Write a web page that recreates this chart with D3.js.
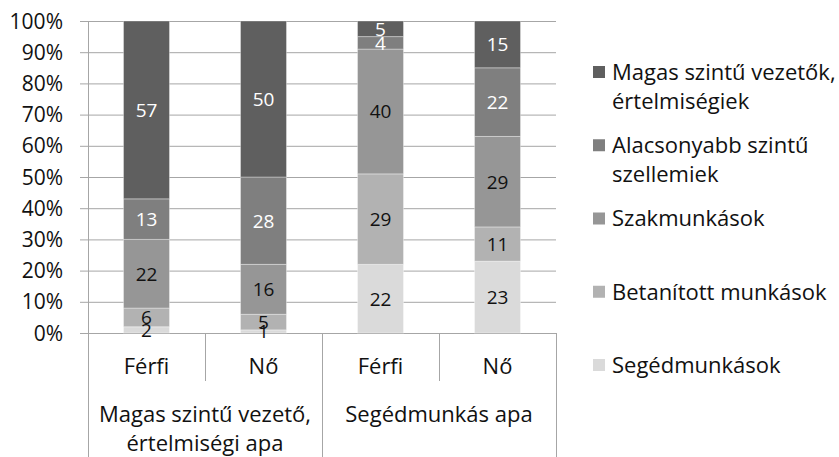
<!DOCTYPE html>
<html>
<head>
<meta charset="utf-8">
<script src="https://cdn.jsdelivr.net/npm/d3@7"></script>
<style>
  body { margin: 0; background: #fff; }
  svg text { font-family: "Open Sans", "Noto Sans", sans-serif; }
</style>
</head>
<body>
<div id="chart"></div>
<script>
// categories (inner level = gender, outer level = father's job)
var genders = ["Férfi", "Nő", "Férfi", "Nő"];
var groups = [
  ["Magas szintű vezető,", "értelmiségi apa"],
  ["Segédmunkás apa"]
];
var groupOf = [0, 0, 1, 1];

// series, bottom to top
var seriesNames = [
  "Segédmunkások",
  "Betanított munkások",
  "Szakmunkások",
  ["Alacsonyabb szintű", "szellemiek"],
  ["Magas szintű vezetők,", "értelmiségiek"]
];
var segedmunkasok = [2, 1, 22, 23];
var betanitott = [6, 5, 29, 11];
var szakmunkasok = [22, 16, 40, 29];
var alacsonyabb = [13, 28, 4, 22];
var magas = [57, 50, 5, 15];

var yTicks = [0, 10, 20, 30, 40, 50, 60, 70, 80, 90, 100];

var colors = ["#dadada", "#b2b2b2", "#969696", "#7f7f7f", "#5f5f5f"];
var labelColors = ["#111", "#111", "#111", "#fff", "#fff"];

var W = 839, H = 457;
var margin = { top: 21, right: 283, bottom: 124, left: 88 };
var width = W - margin.left - margin.right;
var height = H - margin.top - margin.bottom;

var svg = d3.select("#chart").append("svg")
  .attr("width", W)
  .attr("height", H);

var g = svg.append("g")
  .attr("transform", "translate(" + margin.left + "," + margin.top + ")");

var x = d3.scaleBand()
  .domain(d3.range(genders.length))
  .range([0, width])
  .paddingInner(0.607)
  .paddingOuter(0.3035);

var y = d3.scaleLinear()
  .domain([0, 100])
  .range([height, 0]);

var gridColor = "#a6a6a6";

// horizontal gridlines + tick marks
g.selectAll(".grid")
  .data(yTicks)
  .enter().append("line")
  .attr("x1", -8)
  .attr("x2", width)
  .attr("y1", function (d) { return y(d) + 0.5; })
  .attr("y2", function (d) { return y(d) + 0.5; })
  .attr("stroke", gridColor)
  .attr("stroke-width", 1);

g.selectAll(".ylab")
  .data(yTicks)
  .enter().append("text")
  .attr("x", -25)
  .attr("y", function (d) { return y(d); })
  .attr("dy", "0.36em")
  .attr("text-anchor", "end")
  .style("font-size", "21px")
  .attr("fill", "#111")
  .text(function (d) { return d + "%"; });

// stacked data
var table = genders.map(function (c, i) {
  return { i: i, s0: segedmunkasok[i], s1: betanitott[i], s2: szakmunkasok[i], s3: alacsonyabb[i], s4: magas[i] };
});
var stack = d3.stack().keys(["s0", "s1", "s2", "s3", "s4"]);
var layers = stack(table);

var layer = g.selectAll(".layer")
  .data(layers)
  .enter().append("g")
  .attr("fill", function (d, k) { return colors[k]; });

layer.selectAll("rect")
  .data(function (d) { return d; })
  .enter().append("rect")
  .attr("x", function (d) { return x(d.data.i); })
  .attr("width", x.bandwidth())
  .attr("y", function (d) { return y(d[1]); })
  .attr("height", function (d) { return y(d[0]) - y(d[1]); })
  .attr("stroke", "rgba(255,255,255,0.35)")
  .attr("stroke-width", 1);

layers.forEach(function (L, k) {
  g.selectAll(".lab" + k)
    .data(L)
    .enter().append("text")
    .attr("x", function (d) { return x(d.data.i) + x.bandwidth() / 2; })
    .attr("y", function (d) { return (y(d[0]) + y(d[1])) / 2; })
    .attr("dy", "0.36em")
    .attr("text-anchor", "middle")
    .style("font-size", "19px")
    .attr("fill", labelColors[k])
    .text(function (d) { return d[1] - d[0]; });
});

// axes lines
g.append("line")
  .attr("x1", 0.5).attr("x2", 0.5)
  .attr("y1", 0).attr("y2", H - margin.top)
  .attr("stroke", gridColor);
g.append("line")
  .attr("x1", width + 0.5).attr("x2", width + 0.5)
  .attr("y1", height).attr("y2", H - margin.top)
  .attr("stroke", gridColor);

var step = x.step();
// inner tick separators
[1, 3].forEach(function (k) {
  g.append("line")
    .attr("x1", k * step + 0.5).attr("x2", k * step + 0.5)
    .attr("y1", height).attr("y2", height + 48)
    .attr("stroke", gridColor);
});
// group separator
g.append("line")
  .attr("x1", 2 * step + 0.5).attr("x2", 2 * step + 0.5)
  .attr("y1", height).attr("y2", H - margin.top)
  .attr("stroke", gridColor);

// gender labels
g.selectAll(".cat")
  .data(genders)
  .enter().append("text")
  .attr("x", function (d, i) { return x(i) + x.bandwidth() / 2; })
  .attr("y", height + 33)
  .attr("dy", "0.36em")
  .attr("text-anchor", "middle")
  .style("font-size", "22px")
  .attr("fill", "#111")
  .text(function (d) { return d; });

// group labels
groups.forEach(function (lines, gi) {
  var idx = groupOf.map(function (v, i) { return v === gi ? i : -1; }).filter(function (v) { return v >= 0; });
  var cx = (d3.min(idx) * step + (d3.max(idx) + 1) * step) / 2;
  lines.forEach(function (t, li) {
    g.append("text")
      .attr("x", cx)
      .attr("y", height + 81 + li * 29)
      .attr("dy", "0.36em")
      .attr("text-anchor", "middle")
      .style("font-size", "22px")
      .attr("fill", "#111")
      .text(t);
  });
});

// legend, top item first
var legendY = d3.scalePoint()
  .domain(d3.range(seriesNames.length))
  .range([72, 365]);

var legend = svg.append("g");
seriesNames.forEach(function (name, k) {
  var pos = seriesNames.length - 1 - k;
  var cy = legendY(pos);
  legend.append("rect")
    .attr("x", 593)
    .attr("y", cy - 6)
    .attr("width", 12)
    .attr("height", 12)
    .attr("fill", colors[k]);
  var lines = Array.isArray(name) ? name : [name];
  lines.forEach(function (t, li) {
    legend.append("text")
      .attr("x", 612)
      .attr("y", cy + li * 29)
      .attr("dy", "0.36em")
      .style("font-size", "22px")
      .attr("fill", "#111")
      .text(t);
  });
});
</script>
</body>
</html>
